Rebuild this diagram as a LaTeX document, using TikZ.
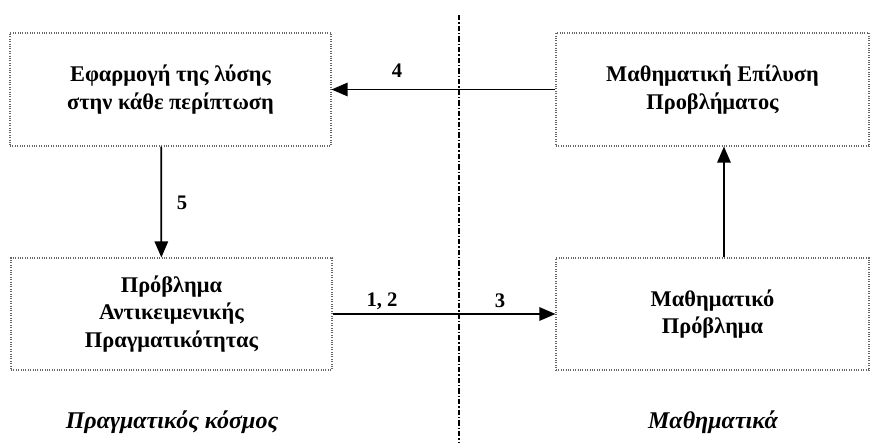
\documentclass[tikz,border=0pt]{standalone}
\usepackage{fontspec}
\setmainfont{Liberation Serif}
\usetikzlibrary{arrows.meta}

\tikzset{
  stepbox/.style={draw=black!60, densely dotted, line width=0.8pt, align=center,
    font=\fontsize{16.8}{20.5}\selectfont\bfseries, inner sep=0pt},
  flow/.style={line width=1.3pt, -{Triangle[length=12pt,width=10pt]}},
  numlabel/.style={font=\fontsize{15.5}{18}\selectfont\bfseries, inner sep=0.75pt},
  worldlabel/.style={font=\fontsize{18}{20}\selectfont\bfseries\itshape, inner sep=0.75pt}
}

\begin{document}
\begin{tikzpicture}[x=0.75pt,y=0.75pt,yscale=-1]
\useasboundingbox (0,0) rectangle (871,443);

%Divider: real world | mathematics
\coordinate (divtop) at (459,15);
\coordinate (divbot) at (459,443);
\draw [line width=1pt, dash pattern={on 4pt off 1.5pt on 1pt off 1.5pt}] (divtop) -- (divbot);

%Boxes
\node [stepbox, minimum width=240.75pt, minimum height=84.75pt] (apply) at (170.5,89.5)
  {Εφαρμογή της λύσης\\στην κάθε περίπτωση};
\node [stepbox, minimum width=234.75pt, minimum height=84.75pt] (solve) at (712.5,89.5)
  {Μαθηματική Επίλυση\\Προβλήματος};
\node [stepbox, minimum width=240.75pt, minimum height=84pt] (real) at (171.5,314)
  {Πρόβλημα\\Αντικειμενικής\\Πραγματικότητας};
\node [stepbox, minimum width=234.75pt, minimum height=84pt] (model) at (712.5,314)
  {Μαθηματικό\\Πρόβλημα};

%Arrows
\draw [flow] (solve) -- (apply);
\draw [flow] ([xshift=-7pt]apply.south) -- ([xshift=-7.6pt]real.north);
\draw [flow] (real) -- (model);
\draw [flow] ([xshift=8.6pt]model.north) -- ([xshift=8.6pt]solve.south);

% Text Node
\node [numlabel] (n4) at (397,71) {4};
% Text Node
\node [numlabel] (n5) at (182,203) {5};
% Text Node
\node [numlabel] (n12) at (382,301) {1, 2};
% Text Node
\node [numlabel] (n3) at (500,301) {3};

% Text Node
\node [worldlabel] (realworld) at (172,422) {Πραγματικός κόσμος};
% Text Node
\node [worldlabel] (maths) at (713,422) {Μαθηματικά};

\end{tikzpicture}
\end{document}
